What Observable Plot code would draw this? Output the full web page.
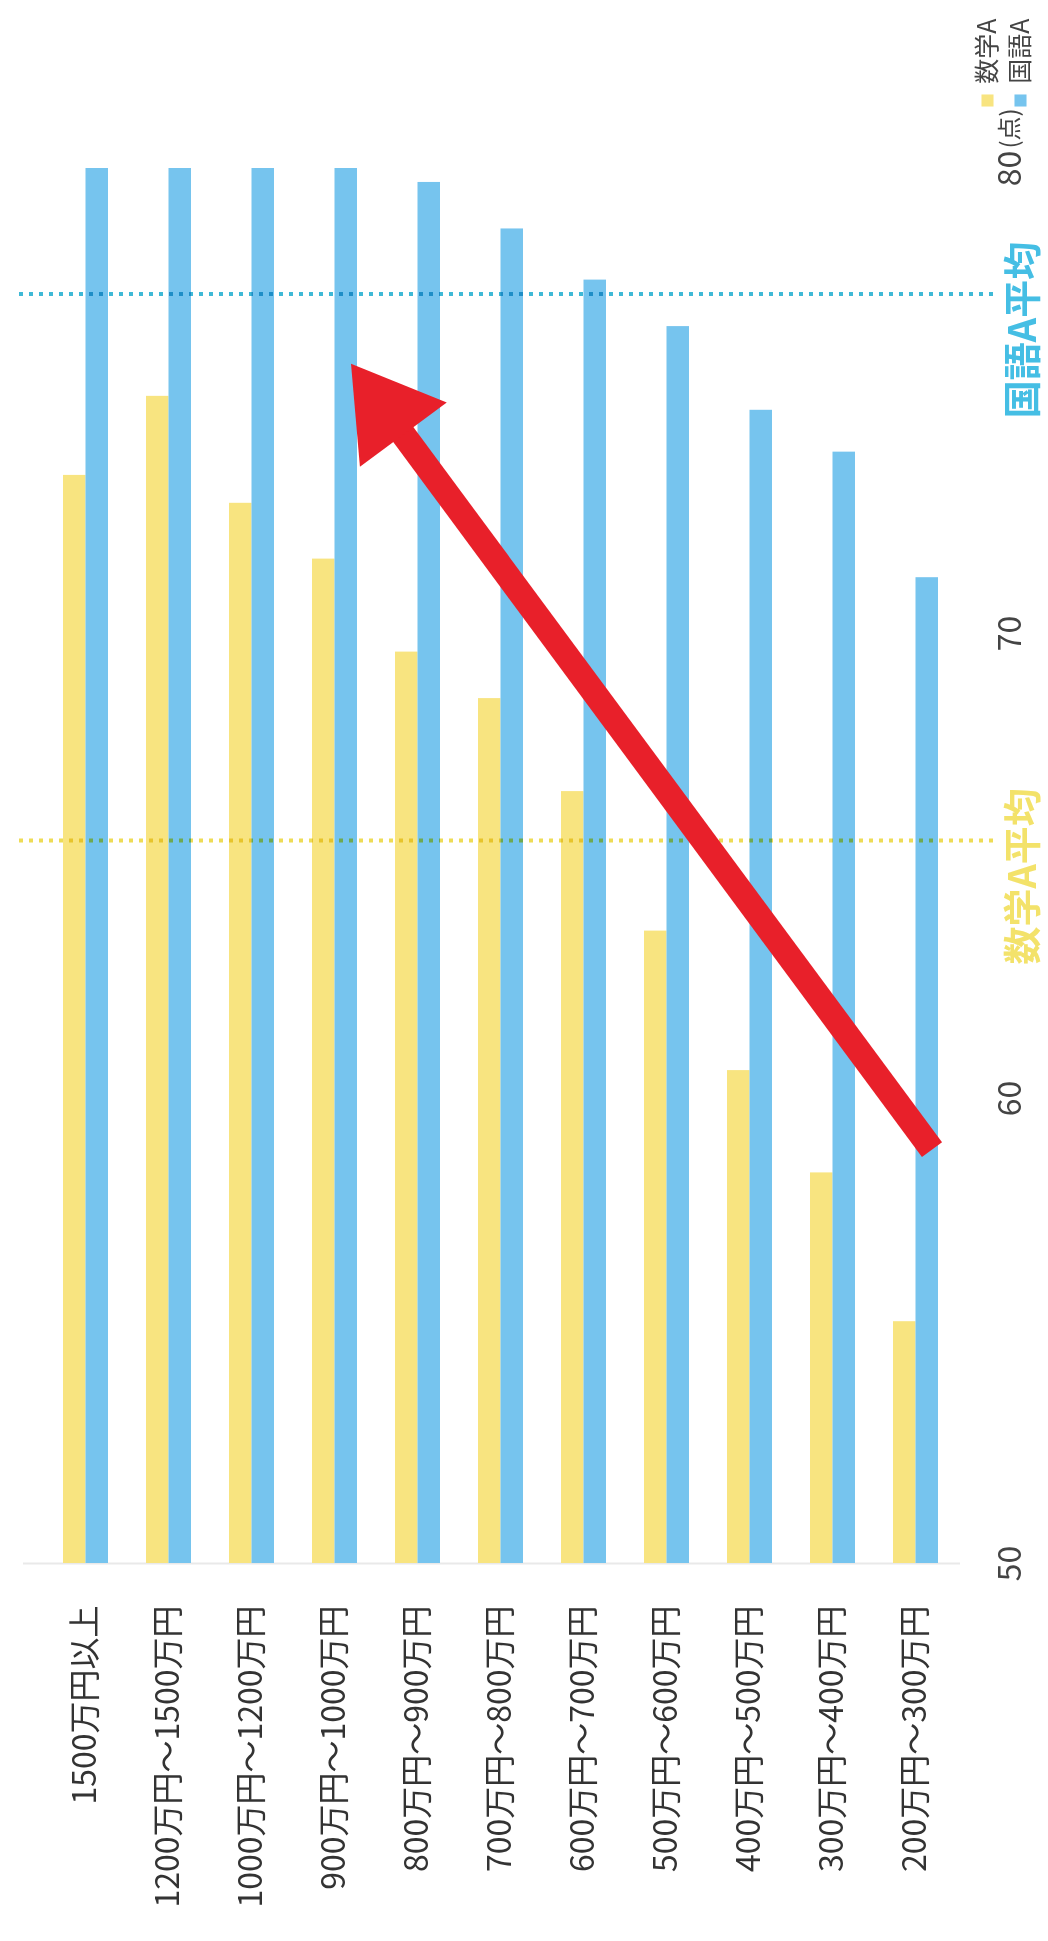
<!DOCTYPE html>
<html>
<head>
<meta charset="utf-8">
<script src="https://cdn.jsdelivr.net/npm/d3@7"></script>
<script src="https://cdn.jsdelivr.net/npm/@observablehq/plot@0.6"></script>
<style>
  html, body { margin: 0; padding: 0; background: #fff; }
  #chart svg { display: block; }
</style>
</head>
<body>
<div id="chart"></div>
<script>
// ---- data ----
const categories = [
  "1500万円以上", "1200万円～1500万円", "1000万円～1200万円", "900万円～1000万円",
  "800万円～900万円", "700万円～800万円", "600万円～700万円", "500万円～600万円",
  "400万円～500万円", "300万円～400万円", "200万円～300万円"
];
const mathA     = [73.4, 75.1, 72.8, 71.6, 69.6, 68.6, 66.6, 63.6, 60.6, 58.4, 55.2];
const japaneseA = [80.0, 80.0, 80.0, 80.0, 79.7, 78.7, 77.6, 76.6, 74.8, 73.9, 71.2];
const seriesNames  = ["数学A", "国語A"];
const seriesColors = ["#F8E480", "#76C4EE"];
const averageValues = [65.55, 77.3];
const averageLabels = ["数学A平均", "国語A平均"];
const averageLineColors = ["#EEDC55", "#3FB9D6"];
const averageTextColors = ["#F3E26A", "#45BEE4"];
const yTicks = [50, 60, 70, 80];
const yUnit = "(点)";
const arrowData = [{from: "200万円～300万円", fromValue: 58.9, to: "900万円～1000万円", toValue: 75.8}];
const arrowColor = "#E8202A";

// ---- chart ----
const seriesValues = [mathA, japaneseA];
const yMin = yTicks[0];

const headSymbol = {
  draw(ctx) {
    ctx.moveTo(0, 0);
    ctx.lineTo(-54, 88);
    ctx.lineTo(54, 88);
    ctx.closePath();
  }
};

const marks = [];

// baseline
marks.push(Plot.ruleY([yMin], {stroke: "#e9e9e9", strokeWidth: 2, insetLeft: -18}));

// bars
seriesValues.forEach((vals, s) => {
  marks.push(Plot.barY(categories, {
    x: d => d,
    y1: yMin,
    y2: (d, i) => vals[i],
    fill: seriesColors[s],
    insetLeft: s === 0 ? 0 : 22.5,
    insetRight: s === 0 ? 22.5 : 0
  }));
});

// average lines + labels
averageValues.forEach((v, s) => {
  marks.push(Plot.ruleY([v], {
    stroke: averageLineColors[s], strokeWidth: 4, strokeDasharray: "4 6",
    insetLeft: -22, insetRight: -36, mixBlendMode: "multiply"
  }));
  marks.push(Plot.text([averageLabels[s]], {
    y: [v], text: d => d, frameAnchor: "right", dx: 63, dy: 36,
    rotate: -90, textAnchor: "middle", lineAnchor: "middle",
    fontSize: 38, fontWeight: "bold", fill: averageTextColors[s]
  }));
});

// category labels
marks.push(Plot.text(categories, {
  x: d => d, frameAnchor: "bottom", dy: 42,
  rotate: -90, textAnchor: "end", lineAnchor: "middle",
  fontSize: 32, fill: "#333"
}));

// y tick labels
marks.push(Plot.text(yTicks, {
  y: d => d, text: d => String(d), frameAnchor: "right", dx: 50,
  rotate: -90, textAnchor: "middle", lineAnchor: "middle",
  fontSize: 32, fill: "#444"
}));
marks.push(Plot.text([yUnit], {
  y: [yTicks[yTicks.length - 1]], text: d => d, frameAnchor: "right", dx: 50, dy: -20,
  rotate: -90, textAnchor: "start", lineAnchor: "middle",
  fontSize: 24, fill: "#444"
}));

// legend
seriesNames.forEach((name, s) => {
  marks.push(Plot.text([name], {
    text: d => d, frameAnchor: "top-right", dx: 27 + 33 * s, dy: -150,
    rotate: -90, textAnchor: "end", lineAnchor: "middle",
    fontSize: 25, fill: "#444"
  }));
  marks.push(Plot.dot([name], {
    frameAnchor: "top-right", dx: 27 + 33 * s, dy: -68,
    symbol: "square", r: 6.8, fill: seriesColors[s]
  }));
});

// arrow
marks.push(Plot.arrow(arrowData, {
  x1: "from", y1: "fromValue", x2: "to", y2: "toValue",
  stroke: arrowColor, strokeWidth: 25, headLength: 0, insetEnd: 45,
  strokeLinecap: "butt", dx: 16
}));
marks.push(Plot.dot(arrowData, {
  x: "to", y: "toValue", symbol: headSymbol, fill: arrowColor,
  rotate: -36.5, dx: 16
}));

const chart = Plot.plot({
  width: 1048,
  height: 1941,
  marginTop: 168,
  marginBottom: 378,
  marginLeft: 41,
  marginRight: 88,
  style: {fontFamily: "'Noto Sans CJK JP', 'Noto Sans', sans-serif", background: "#fff"},
  x: {domain: categories, paddingInner: 0.46, paddingOuter: 0.23, axis: null},
  y: {domain: [yMin, yTicks[yTicks.length - 1]], axis: null},
  marks
});
document.getElementById("chart").append(chart);
</script>
</body>
</html>
